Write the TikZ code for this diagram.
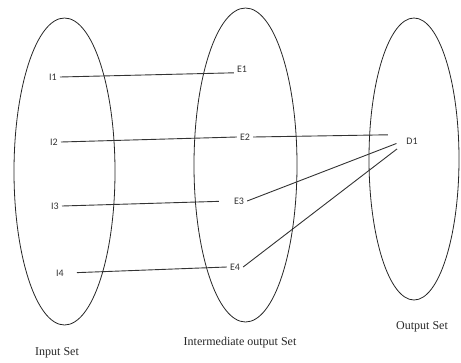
\documentclass[tikz,border=0pt]{standalone}
\usepackage{fontspec}
\setmainfont{Liberation Serif}
\newfontfamily\lblfont{Carlito}
\usetikzlibrary{positioning}

\begin{document}
\begin{tikzpicture}[
  x=1pt, y=-1pt,
  setring/.style={draw=black!85, line width=0.8pt},
  elem/.style={font=\lblfont\fontsize{10}{12}\selectfont, text=black!80, inner sep=3pt},
  setname/.style={font=\fontsize{12}{14}\selectfont, text=black!85},
  link/.style={draw=black!80, line width=0.9pt},
]
\useasboundingbox (0,0) rectangle (461,362);

% ===================== the three sets =====================
\draw[setring] (64.5,171.5) ellipse [x radius=50.5, y radius=153.5];
\draw[setring] (245.5,165) ellipse [x radius=51.5, y radius=157];
\draw[setring] (414,159) ellipse [x radius=45, y radius=141];

\node[setname] (inset)  at (57,353)  {Input Set};
\node[setname] (midset) at (240,343) {Intermediate output Set};
\node[setname] (outset) at (422,327) {Output Set};

% ===================== elements =====================
\node[elem] (i1) at (53,77)  {I1};
\node[elem] (i2) at (54,142) {I2};
\node[elem] (i3) at (55,206) {I3};
\node[elem] (i4) at (60,273) {I4};

\node[elem] (e1) at (242,69)  {E1};
\node[elem] (e2) at (245,137) {E2};
\node[elem] (e3) at (239,201) {E3};
\node[elem] (e4) at (235,267) {E4};

\node[elem, inner xsep=6pt] (d1) at (412,141) {D1};

% ===================== mappings =====================
\draw[link] (i1.east) -- (e1.205);
\draw[link] (i2.east) -- (e2.west);
\draw[link, shorten >=12pt] (i3.east) -- (e3.west);
\draw[link, shorten <=10pt] (i4.east) -- (e4.west);

\draw[link, shorten >=13pt] (e2.east) -- (d1.150);
\draw[link, shorten >=4pt] (e3.east) -- (d1.185);
\draw[link, shorten >=4pt] (e4.east) -- (d1.205);

\end{tikzpicture}
\end{document}
